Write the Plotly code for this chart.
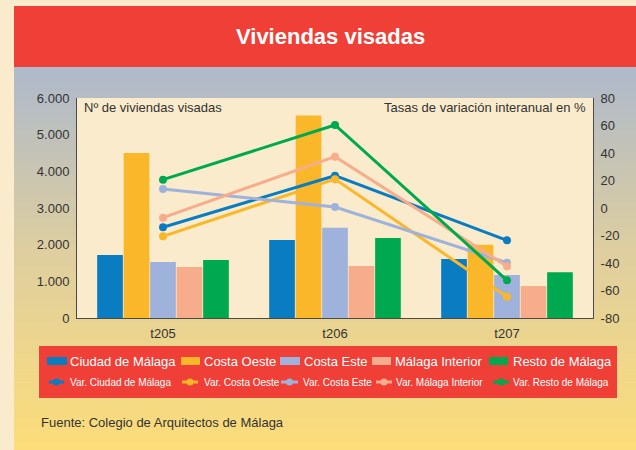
import plotly.graph_objects as go

# ---------------- data ----------------
categories = ["t205", "t206", "t207"]
series_names = ["Ciudad de Málaga", "Costa Oeste", "Costa Este", "Málaga Interior", "Resto de Málaga"]
var_names = ["Var. Ciudad de Málaga", "Var. Costa Oeste", "Var. Costa Este",
             "Var. Málaga Interior", "Var. Resto de Málaga"]

viv_ciudad = [1720, 2130, 1610]
viv_costa_oeste = [4500, 5520, 2000]
viv_costa_este = [1530, 2460, 1170]
viv_interior = [1390, 1420, 870]
viv_resto = [1580, 2180, 1250]

var_ciudad = [-14.0, 23.5, -23.5]
var_costa_oeste = [-20.6, 21.0, -64.5]
var_costa_este = [13.8, 0.7, -39.8]
var_interior = [-7.0, 37.3, -42.4]
var_resto = [20.6, 60.4, -52.6]

left_ticks = [0, 1000, 2000, 3000, 4000, 5000, 6000]
right_ticks = [-80, -60, -40, -20, 0, 20, 40, 60, 80]
right_tick_text = ["-80", "-60", "-40", "-20", "0", "20", "40", "60", "80"]

title_text = "Viviendas visadas"
left_note = "Nº de viviendas visadas"
right_note = "Tasas de variación interanual en %"
source_text = "Fuente: Colegio de Arquitectos de Málaga"

# ---------------- styles ----------------
colors = ["#0a7dc2", "#fbb72a", "#9fb2dc", "#f7ad8c", "#00a94f"]
FONT = "Liberation Sans, Arial, sans-serif"
CREAM = "#f9ebcb"
RED = "#ef3f36"

bar_values = [viv_ciudad, viv_costa_oeste, viv_costa_este, viv_interior, viv_resto]
var_values = [var_ciudad, var_costa_oeste, var_costa_este, var_interior, var_resto]

fig = go.Figure()
for name, vals, col in zip(series_names, bar_values, colors):
    fig.add_trace(go.Bar(x=categories, y=vals, name=name, marker=dict(color=col, line=dict(width=0)),
                         showlegend=False))
for name, vals, col in zip(var_names, var_values, colors):
    fig.add_trace(go.Scatter(x=categories, y=vals, name=name, yaxis="y2", mode="lines+markers",
                             line=dict(color=col, width=3), marker=dict(color=col, size=8),
                             showlegend=False))

# pixel geometry of plot area
L, R, T, B = 77, 593, 98, 318
W, H = R - L, B - T


def px(x):
    return (x - L) / W


def py(y):
    return (B - y) / H


shapes = []
# gradient panel
stops = [(67, (173, 185, 203)), (250, (222, 206, 160)), (450, (252, 221, 121))]
n = 96
y0, y1 = 67, 450
for i in range(n):
    ya = y0 + (y1 - y0) * i / n
    yb = y0 + (y1 - y0) * (i + 1) / n
    ym = (ya + yb) / 2
    for (sa, ca), (sb, cb) in zip(stops[:-1], stops[1:]):
        if sa <= ym <= sb:
            t = (ym - sa) / (sb - sa)
            c = tuple(int(round(ca[k] + (cb[k] - ca[k]) * t)) for k in range(3))
            break
    shapes.append(dict(type="rect", xref="paper", yref="paper", layer="below",
                       x0=px(14), x1=px(637), y0=py(yb + 0.6), y1=py(ya),
                       fillcolor="rgb(%d,%d,%d)" % c, line=dict(width=0)))
# title bar
shapes.append(dict(type="rect", xref="paper", yref="paper", layer="below",
                   x0=px(14), x1=px(637), y0=py(67), y1=py(6), fillcolor=RED, line=dict(width=0)))
# plot area cream
shapes.append(dict(type="rect", xref="paper", yref="paper", layer="below",
                   x0=0, x1=1, y0=0, y1=1, fillcolor=CREAM, line=dict(width=0)))
# legend box
shapes.append(dict(type="rect", xref="paper", yref="paper", layer="above",
                   x0=px(39), x1=px(617), y0=py(398), y1=py(346), fillcolor=RED, line=dict(width=0)))

annotations = []
# legend row 1 (bars)
row1_sym = [(47, 67), (181, 200), (280, 300), (372, 391), (489, 508)]
row1_txt = [68, 202, 302, 393, 511]
row1_y = 361
for (a, b), tx, col, name in zip(row1_sym, row1_txt, colors, series_names):
    shapes.append(dict(type="rect", xref="paper", yref="paper", layer="above",
                       x0=px(a), x1=px(b), y0=py(row1_y + 4), y1=py(row1_y - 4),
                       fillcolor=col, line=dict(width=0)))
    annotations.append(dict(text=name, x=px(tx), y=py(row1_y), xref="paper", yref="paper",
                            xanchor="left", yanchor="middle", showarrow=False,
                            font=dict(family=FONT, size=13, color="white")))
# legend row 2 (lines)
row2_sym = [(49, 64), (182, 198), (281, 298), (376, 392), (493, 509)]
row2_txt = [68, 202, 301, 394, 511]
row2_y = 382
for (a, b), tx, col, name in zip(row2_sym, row2_txt, colors, var_names):
    shapes.append(dict(type="line", xref="paper", yref="paper", layer="above",
                       x0=px(a), x1=px(b), y0=py(row2_y), y1=py(row2_y),
                       line=dict(color=col, width=3)))
    cx = (a + b) / 2
    shapes.append(dict(type="circle", xref="paper", yref="paper", layer="above",
                       x0=px(cx - 3.5), x1=px(cx + 3.5), y0=py(row2_y + 3.5), y1=py(row2_y - 3.5),
                       fillcolor=col, line=dict(width=0)))
    annotations.append(dict(text=name, x=px(tx), y=py(row2_y), xref="paper", yref="paper",
                            xanchor="left", yanchor="middle", showarrow=False,
                            font=dict(family=FONT, size=10, color="white")))

annotations += [
    dict(text="<b>" + title_text + "</b>", x=px(330), y=py(37), xref="paper", yref="paper",
         xanchor="center", yanchor="middle", showarrow=False,
         font=dict(family=FONT, size=22, color="white")),
    dict(text=left_note, x=px(82), y=py(108), xref="paper", yref="paper",
         xanchor="left", yanchor="middle", showarrow=False,
         font=dict(family=FONT, size=13, color="#333333")),
    dict(text=right_note, x=px(588), y=py(108), xref="paper", yref="paper",
         xanchor="right", yanchor="middle", showarrow=False,
         font=dict(family=FONT, size=13, color="#333333")),
    dict(text=source_text, x=px(39), y=py(422), xref="paper", yref="paper",
         xanchor="left", yanchor="middle", showarrow=False,
         font=dict(family=FONT, size=13, color="#333333")),
]

fig.update_layout(
    width=636, height=450,
    margin=dict(l=L, r=636 - R, t=T, b=450 - B, pad=0),
    paper_bgcolor=CREAM, plot_bgcolor=CREAM,
    separators=",.",
    font=dict(family=FONT, size=13, color="#333333"),
    barmode="group", bargap=0.23, bargroupgap=0.03,
    showlegend=False,
    xaxis=dict(showline=True, linecolor="#4a4a4a", linewidth=1, showgrid=False, zeroline=False,
               ticks="", ticklabelstandoff=3, tickfont=dict(size=13, color="#333333")),
    yaxis=dict(range=[0, 6000], tickvals=left_ticks, tickformat=",", showline=True,
               linecolor="#4a4a4a", linewidth=1, showgrid=False, zeroline=False, ticks="",
               ticklabelstandoff=4, tickfont=dict(size=13, color="#333333")),
    yaxis2=dict(range=[-80, 80], tickvals=right_ticks, ticktext=right_tick_text, overlaying="y",
                side="right", showline=True, linecolor="#4a4a4a", linewidth=1, showgrid=False,
                zeroline=False, ticks="", ticklabelstandoff=4,
                tickfont=dict(size=13, color="#333333")),
    shapes=shapes,
    annotations=annotations,
)

page_css = "document.body.style.margin='0';document.body.style.background='" + CREAM + "';"
fig.write_html("out.html", post_script=page_css, config={"displayModeBar": False})
